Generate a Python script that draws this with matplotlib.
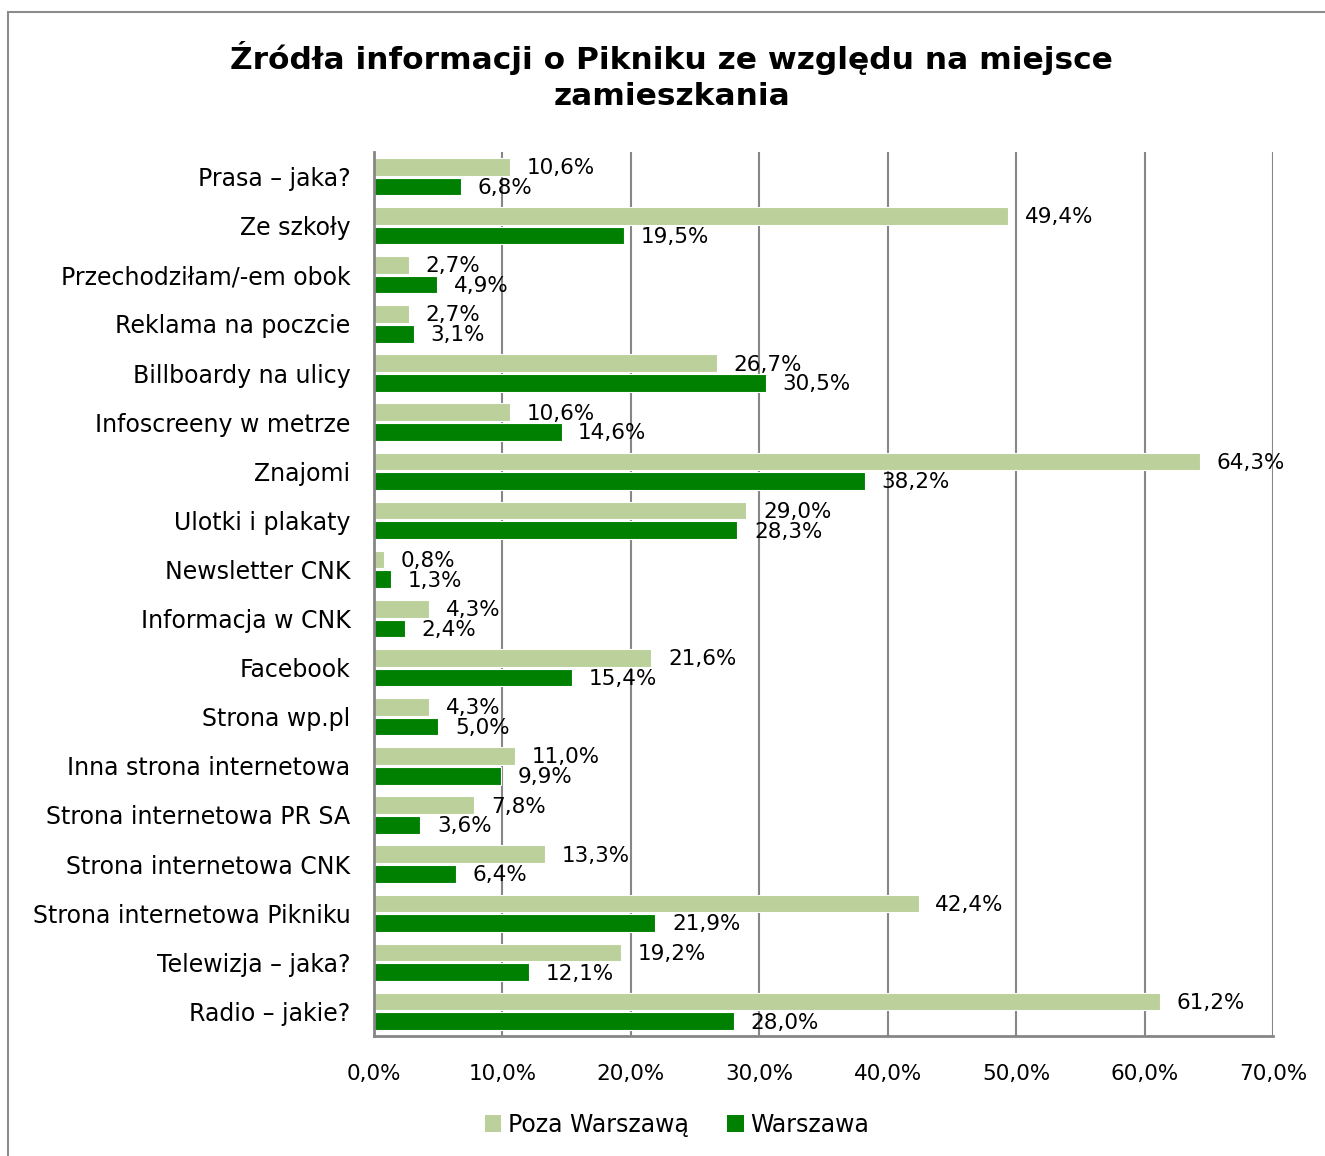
import numpy as np
import matplotlib.pyplot as plt
from matplotlib.patches import Rectangle, Patch

plt.rcParams['font.family'] = ['DejaVu Sans']

categories = ['Prasa – jaka?', 'Ze szkoły', 'Przechodziłam/-em obok',
              'Reklama na poczcie', 'Billboardy na ulicy', 'Infoscreeny w metrze',
              'Znajomi', 'Ulotki i plakaty', 'Newsletter CNK', 'Informacja w CNK',
              'Facebook', 'Strona wp.pl', 'Inna strona internetowa',
              'Strona internetowa PR SA', 'Strona internetowa CNK',
              'Strona internetowa Pikniku', 'Telewizja – jaka?', 'Radio – jakie?']
poza = [10.6, 49.4, 2.7, 2.7, 26.7, 10.6, 64.3, 29.0, 0.8, 4.3,
        21.6, 4.3, 11.0, 7.8, 13.3, 42.4, 19.2, 61.2]
warszawa = [6.8, 19.5, 4.9, 3.1, 30.5, 14.6, 38.2, 28.3, 1.3, 2.4,
            15.4, 5.0, 9.9, 3.6, 6.4, 21.9, 12.1, 28.0]
xticks = [0, 10, 20, 30, 40, 50, 60, 70]

light = '#BBD09A'
dark = '#008000'
grid_c = '#868686'

fig = plt.figure(figsize=(13.25, 11.56), dpi=100)
# outer chart frame (cropped on right and bottom)
fig.patches.append(Rectangle((8 / 1325, -0.1), 1.2, 1 - 12 / 1156 + 0.1,
                             transform=fig.transFigure, fill=False,
                             edgecolor='#8c8c8c', linewidth=1.5))

ax = fig.add_axes([374 / 1325, 1 - 1036 / 1156, 899 / 1325, 884 / 1156])

y = np.arange(len(categories))
h = 0.36
ax.barh(y - 0.2, poza, height=h, color=light, edgecolor='white', linewidth=0.8,
        label='Poza Warszawą', zorder=3)
ax.barh(y + 0.2, warszawa, height=h, color=dark, edgecolor='white', linewidth=0.8,
        label='Warszawa', zorder=3)

def fmt(v):
    return f'{v:.1f}%'.replace('.', ',')

for i in range(len(categories)):
    ax.annotate(fmt(poza[i]), (poza[i], y[i] - 0.2), xytext=(12, -1),
                textcoords='offset points', va='center', ha='left', fontsize=15.5, zorder=5)
    ax.annotate(fmt(warszawa[i]), (warszawa[i], y[i] + 0.2), xytext=(12, -1),
                textcoords='offset points', va='center', ha='left', fontsize=15.5, zorder=5)

ax.set_xlim(0, 70)
ax.set_ylim(len(categories) - 0.5, -0.5)
ax.set_yticks(y)
ax.set_yticklabels(categories, fontsize=17)
ax.set_xticks(xticks)
ax.set_xticklabels([fmt(t) for t in xticks], fontsize=15.5)
ax.tick_params(axis='both', length=0, colors='black')
ax.tick_params(axis='y', pad=17)
ax.tick_params(axis='x', pad=20)
ax.grid(axis='x', color=grid_c, linewidth=1.5, zorder=0)
for s in ['left', 'bottom']:
    ax.spines[s].set_color(grid_c)
    ax.spines[s].set_linewidth(2)
    ax.spines[s].set_zorder(4)
ax.spines['top'].set_visible(False)
ax.spines['right'].set_visible(False)

fig.text(0.507, 1 - 76 / 1156, 'Źródła informacji o Pikniku ze względu na miejsce\nzamieszkania',
         ha='center', va='center', fontsize=22.5, fontweight='bold', linespacing=1.3)

handles = [Patch(facecolor=light), Patch(facecolor=dark)]
fig.legend(handles, ['Poza Warszawą', 'Warszawa'], loc='center',
           bbox_to_anchor=(0.511, 1 - 1125 / 1156), ncol=2, frameon=False,
           fontsize=17, handlelength=0.7, handleheight=0.7, handletextpad=0.3,
           columnspacing=1.6)

fig.savefig('out.png', dpi=100)
